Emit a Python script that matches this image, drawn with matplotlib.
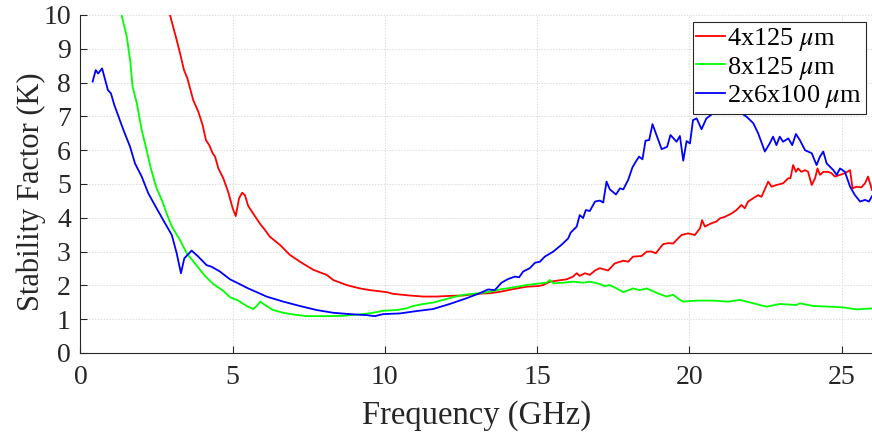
import matplotlib
matplotlib.use("Agg")
import matplotlib.pyplot as plt

plt.rcParams['font.family'] = ['Liberation Serif', 'DejaVu Serif']
plt.rcParams['mathtext.fontset'] = 'stix'

labels = ['4x125 $\\mu$m', '8x125 $\\mu$m', '2x6x100 $\\mu$m']
colors = ['#ff0000', '#00ff00', '#0000ff']

red_f = [2.94, 3.16, 3.27, 3.40, 3.51, 3.70, 3.87, 4.01, 4.12, 4.23, 4.34, 4.42, 4.53, 4.69, 4.85,
         5.00, 5.10, 5.21, 5.31, 5.40, 5.51, 5.67, 5.90, 6.06, 6.22, 6.55, 6.88, 7.21, 7.65, 8.09,
         8.30, 8.74, 9.18, 9.51, 10.06, 10.27, 10.82, 11.26, 11.70, 12.14, 12.57, 13.01, 13.45,
         13.78, 14.21, 14.65, 15.03, 15.20, 15.42, 15.58, 15.97, 16.18, 16.30, 16.40, 16.57, 16.73,
         16.90, 17.06, 17.33, 17.55, 17.83, 17.99, 18.15, 18.43, 18.60, 18.76, 18.90, 19.03, 19.14,
         19.30, 19.47, 19.63, 19.74, 19.96, 20.18, 20.35, 20.42, 20.51, 20.73, 20.89, 21.00, 21.17,
         21.39, 21.55, 21.71, 21.82, 21.93, 22.10, 22.26, 22.37, 22.59, 22.70, 22.86, 23.08, 23.25,
         23.32, 23.41, 23.50, 23.57, 23.68, 23.80, 23.90, 24.02, 24.13, 24.21, 24.29, 24.40, 24.56,
         24.67, 24.78, 24.95, 25.11, 25.28, 25.36, 25.49, 25.65, 25.77, 25.87, 26.00]
red_k = [10.0, 9.26, 8.87, 8.37, 8.13, 7.49, 7.14, 6.75, 6.30, 6.15, 5.91, 5.81, 5.46, 5.17, 4.77,
         4.28, 4.05, 4.58, 4.74, 4.67, 4.35, 4.13, 3.82, 3.64, 3.44, 3.20, 2.90, 2.70, 2.46, 2.31,
         2.16, 2.01, 1.91, 1.86, 1.80, 1.75, 1.70, 1.67, 1.67, 1.69, 1.70, 1.75, 1.77,
         1.81, 1.89, 1.96, 1.98, 2.01, 2.11, 2.13, 2.18, 2.26, 2.36, 2.28, 2.36, 2.31,
         2.44, 2.51, 2.44, 2.65, 2.73, 2.70, 2.85, 2.87, 3.00, 3.00, 2.95, 3.10, 3.22,
         3.25, 3.24, 3.39, 3.49, 3.54, 3.49, 3.69, 3.93, 3.74, 3.84, 3.89, 3.98, 4.03,
         4.13, 4.23, 4.38, 4.28, 4.48, 4.58, 4.67, 4.62, 5.07, 4.92, 4.97, 5.02, 5.17,
         5.17, 5.56, 5.36, 5.46, 5.36, 5.41, 5.36, 4.97, 5.17, 5.46, 5.27, 5.36, 5.36,
         5.32, 5.22, 5.27, 5.32, 5.41, 4.87, 4.92, 4.90, 5.02, 5.22, 4.82]

green_f = [1.35, 1.52, 1.63, 1.71, 1.85, 2.01, 2.17, 2.31, 2.50, 2.67, 2.83, 3.00, 3.27, 3.49, 3.76,
           4.09, 4.36, 4.69, 4.91, 5.18, 5.46, 5.67, 5.79, 5.90, 6.11, 6.33, 6.66, 6.99, 7.43, 8.09,
           8.63, 9.18, 9.62, 9.94, 10.38, 10.71, 10.93, 11.26, 11.58, 11.91, 12.24, 12.57, 12.90,
           13.23, 13.56, 13.78, 14.21, 14.65, 15.09, 15.31, 15.42, 15.53, 15.86, 16.18, 16.51, 16.73,
           17.06, 17.22, 17.39, 17.61, 17.83, 18.15, 18.37, 18.60, 18.92, 19.25, 19.47, 19.69, 19.80,
           20.24, 20.78, 21.27, 21.66, 22.10, 22.54, 22.97, 23.52, 23.63, 24.07, 24.61, 25.05, 25.49,
           26.00]
green_k = [10.0, 9.36, 8.67, 7.88, 7.39, 6.60, 6.01, 5.46, 4.87, 4.53, 4.13, 3.74, 3.34, 2.95, 2.65,
           2.28, 2.04, 1.84, 1.65, 1.55, 1.39, 1.30, 1.39, 1.52, 1.39, 1.27, 1.19, 1.14, 1.09, 1.09,
           1.10, 1.14, 1.19, 1.25, 1.27, 1.32, 1.39, 1.45, 1.49, 1.57, 1.65, 1.72, 1.75,
           1.78, 1.83, 1.88, 1.94, 2.01, 2.06, 2.08, 2.16, 2.06, 2.08, 2.11, 2.08, 2.11,
           2.04, 1.98, 2.01, 1.91, 1.80, 1.91, 1.86, 1.91, 1.78, 1.67, 1.72, 1.57, 1.52,
           1.55, 1.55, 1.52, 1.57, 1.47, 1.37, 1.45, 1.42, 1.47, 1.39, 1.37, 1.35, 1.29,
           1.32]

blue_f = [0.40, 0.50, 0.58, 0.71, 0.90, 1.00, 1.11, 1.41, 1.63, 1.79, 2.01, 2.23, 2.50, 2.72, 3.00,
          3.16, 3.30, 3.41, 3.65, 3.87, 4.14, 4.31, 4.58, 4.91, 5.18, 5.51, 5.84, 6.11, 6.66, 7.21,
          7.76, 8.30, 8.85, 9.40, 9.67, 9.94, 10.49, 11.04, 11.58, 12.13, 12.68, 13.12, 13.39, 13.61,
          13.83, 14.05, 14.27, 14.41, 14.54, 14.76, 14.93, 15.09, 15.25, 15.53, 15.80, 16.02, 16.10,
          16.30, 16.40, 16.51, 16.60, 16.73, 16.90, 17.06, 17.17, 17.28, 17.39, 17.59, 17.72, 17.83,
          17.99, 18.13, 18.24, 18.35, 18.46, 18.56, 18.68, 18.79, 18.92, 19.09, 19.27, 19.38, 19.58,
          19.69, 19.80, 19.91, 20.02, 20.12, 20.24, 20.40, 20.56, 20.78, 20.95, 21.10, 21.25, 21.40,
          21.55, 21.70, 21.88, 22.10, 22.26, 22.48, 22.64, 22.75, 22.86, 22.97, 23.08, 23.25, 23.38,
          23.50, 23.63, 23.80, 24.02, 24.18, 24.29, 24.40, 24.51, 24.73, 24.84, 24.95, 25.11, 25.28,
          25.44, 25.61, 25.77, 25.90, 26.00]
blue_k = [8.03, 8.37, 8.27, 8.42, 7.78, 7.68, 7.34, 6.60, 6.10, 5.61, 5.22, 4.72, 4.28, 3.93, 3.49,
          2.95, 2.36, 2.80, 3.03, 2.85, 2.60, 2.55, 2.41, 2.18, 2.06, 1.91, 1.78, 1.67, 1.52, 1.39,
          1.27, 1.19, 1.15, 1.12, 1.09, 1.15, 1.17, 1.24, 1.30, 1.45, 1.62, 1.77, 1.88, 1.86,
          2.08, 2.19, 2.26, 2.24, 2.41, 2.51, 2.67, 2.70, 2.85, 3.00, 3.20, 3.39, 3.56,
          3.74, 4.08, 3.99, 4.23, 4.20, 4.48, 4.51, 4.45, 5.07, 4.84, 4.69, 4.87, 4.84,
          5.12, 5.49, 5.66, 5.81, 5.73, 6.28, 6.30, 6.77, 6.45, 6.03, 6.10, 6.45, 6.25,
          6.42, 5.69, 6.27, 6.20, 6.89, 6.94, 6.62, 6.94, 7.09, 7.25, 7.15, 7.30, 7.20,
          7.35, 7.10, 6.99, 6.80, 6.50, 5.96, 6.20, 6.40, 6.15, 6.40, 6.25, 6.35, 6.15,
          6.48, 6.30, 6.00, 5.91, 5.56, 5.81, 5.96, 5.61, 5.41, 5.27, 5.46, 5.36, 4.92,
          4.67, 4.48, 4.53, 4.48, 4.64]

x_ticks = [0, 5, 10, 15, 20, 25]
y_ticks = list(range(0, 11))

fig = plt.figure(figsize=(8.72, 4.36), dpi=100)
ax = fig.add_axes([0.0923, 0.1904, 0.9077, 0.7752])

for f, k, c, lab in zip([red_f, green_f, blue_f], [red_k, green_k, blue_k], colors, labels):
    ax.plot(f, k, color=c, lw=1.3, label=lab)

ax.set_xlim(0, 26)
ax.set_ylim(0, 10)
ax.set_xticks(x_ticks)
ax.set_yticks(y_ticks)
ax.grid(True, color='#dcdcdc', linestyle=(0, (1.5, 1.5)), linewidth=0.7)
ax.set_axisbelow(True)
for s in ['top', 'right']:
    ax.spines[s].set_visible(False)
for s in ['left', 'bottom']:
    ax.spines[s].set_color('#262626')
    ax.spines[s].set_linewidth(0.8)
ax.tick_params(direction='in', length=5, width=0.8, colors='#262626', labelsize=20)
ax.tick_params(axis='x', pad=9)
ax.tick_params(axis='y', pad=7)
ax.set_xlabel('Frequency (GHz)', fontsize=23.5, color='#262626', labelpad=7)
ax.set_ylabel('Stability Factor (K)', fontsize=22, color='#262626')
ax.yaxis.set_label_coords(-0.043, 0.478)

leg = ax.legend(loc='upper right', bbox_to_anchor=(0.992, 0.979), fontsize=19, frameon=True,
                fancybox=False, handlelength=1.08, handletextpad=0.08, borderpad=0.14,
                labelspacing=0.07, borderaxespad=0.0)
leg.get_frame().set_edgecolor('#262626')
leg.get_frame().set_linewidth(0.8)
leg.get_frame().set_alpha(1.0)

fig.savefig('out.png', dpi=100)
